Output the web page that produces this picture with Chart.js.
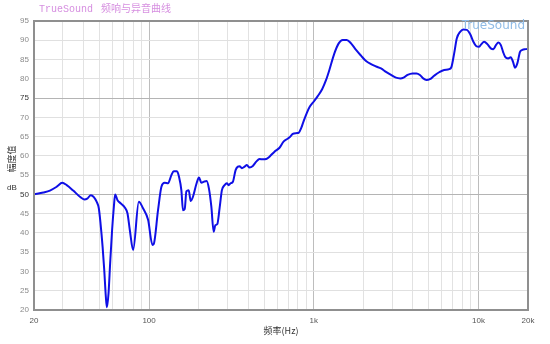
<!DOCTYPE html>
<html>
<head>
<meta charset="utf-8">
<script src="https://cdn.jsdelivr.net/npm/chart.js@4/dist/chart.umd.min.js"></script>
<style>
  html, body { margin: 0; padding: 0; background: #fff; }
  #wrap { width: 550px; height: 344px; }
</style>
</head>
<body>
<div id="wrap"><canvas id="chart" width="550" height="344"></canvas></div>
<script>
// frequency response
const freqHz = [
    20, 22.8, 25, 27.5, 29.7, 31.6, 34.6, 38, 40.4, 42.1, 44.3, 46.2, 48, 49.5,
    50.7, 52.2, 53.4, 54.6, 55.4, 56.7, 58, 59.6, 61.1, 62.2, 64.3, 67.1, 71.2,
    73.9, 76.4, 80, 86.6, 91.9, 98.6, 104.8, 106.7, 113.3, 118.8, 124.4, 130.3,
    136.6, 141.1, 147.7, 151.9, 157.1, 160.6, 164.5, 168.5, 174, 178.9, 184.7,
    193.7, 200.9, 207.7, 215.4, 223.6, 230.9, 238.8, 246.6, 252.5, 259.6, 268.1,
    276.8, 287.4, 296.8, 303.9, 312.5, 322.8, 335.2, 346.1, 354.4, 366, 380,
    392.4, 407.4, 426.6, 447.4, 468.5, 490.6, 514.4, 538.6, 577.6, 619.5, 655.2,
    686.1, 712.3, 745.9, 782.1, 811, 838.5, 865.9, 906.7, 941.4, 1009, 1057,
    1124, 1188, 1244, 1334, 1417, 1498, 1584, 1684, 1806, 1937, 2077, 2227,
    2388, 2560, 2745, 2944, 3157, 3352, 3510, 3711, 3979, 4207, 4411, 4619,
    4836, 5071, 5386, 5776, 6195, 6642, 6861, 7123, 7394, 7743, 8107, 8501,
    8902, 9322, 9678, 10092, 10423, 10822, 11333, 11884, 12324, 12800, 13213,
    13662, 14110, 14570, 15131, 15713, 16224, 16682, 17228, 17887, 18474,
    19370, 20000,
];
const splDb = [
    50, 50.5, 51, 52, 53, 52.4, 51, 49.4, 48.7, 48.9, 49.8, 49.3, 48.1, 46.4,
    42.5, 36.4, 30.4, 23.5, 20.7, 24.3, 32.1, 40.7, 46.8, 50, 48.5, 47.7, 46.6,
    45.1, 40.7, 35.6, 48.1, 46.4, 43.4, 36.9, 37.1, 45.9, 52, 53, 52.9,
    55, 56, 56, 54.6, 51, 45.9, 46.2, 50.8, 51.1, 48.3, 49.4,
    52.7, 54.4, 53, 53.3, 53.5, 51.5, 46.8, 40.3, 42, 42.3, 46.5,
    51.1, 52.4, 52.9, 52.4, 52.9, 53.3, 56.3, 57.2, 57.3, 56.8, 57.2,
    57.6, 57, 57.4, 58.5, 59.2, 59.1, 59.2, 59.8, 61.1, 62.1, 63.7,
    64.3, 64.8, 65.7, 65.9, 66, 67.2, 68.9, 71.1, 72.6, 74.3, 75.5,
    77.3, 79.7, 82.3, 86.6, 89.2, 90.1, 90.1, 89.2, 87.5, 86, 84.6, 83.8,
    83.2, 82.7, 81.8, 81, 80.3, 80.1, 80.3, 81, 81.4, 81.4, 81, 80.1,
    79.7, 79.9, 80.8, 81.7, 82.3, 82.5, 83.1, 86.6, 90.5, 92.2, 92.8, 92.7,
    91.6, 89.6, 88.5, 88.3, 89, 89.6, 89, 87.9, 87.7, 88.8, 89.4,
    88.8, 87, 85.6, 85.3, 85.6, 84.4, 82.9, 84, 87, 87.5,
    87.7, 87.8,
];

// axis ticks and grid
const xGridHz = [
    20, 30, 40, 50, 60, 70, 80, 90,
    100, 200, 300, 400, 500, 600, 700, 800, 900,
    1000, 2000, 3000, 4000, 5000, 6000, 7000, 8000, 9000,
    10000, 20000,
];
const xTickValues = [20, 100, 1000, 10000, 20000];
const xTickLabels = ['20', '100', '1k', '10k', '20k'];
const xMajorHz = [100, 1000, 10000];
const yTickValues = [20, 25, 30, 35, 40, 45, 50, 55, 60, 65, 70, 75, 80, 85, 90, 95];
const yMajorDb = [50, 75];

const chartTitle = 'TrueSound';
const chartSubtitle = '频响与异音曲线';
const watermark = 'TrueSound';
const xTitle = '频率(Hz)';
const yTitle = '幅度值';
const yUnit = 'dB';

const tickFont = { family: 'Liberation Sans', size: 8 };

const labelsPlugin = {
    id: 'labels',
    afterDraw(chart) {
        const { ctx, chartArea: area } = chart;
        ctx.save();

        // frame
        ctx.strokeStyle = '#8f8f8f';
        ctx.lineWidth = 2;
        ctx.strokeRect(area.left, area.top, area.right - area.left, area.bottom - area.top);

        // title
        ctx.fillStyle = '#d68fe0';
        ctx.textBaseline = 'middle';
        ctx.textAlign = 'left';
        ctx.font = '10px "Liberation Mono"';
        ctx.fillText(chartTitle, 39, 9);
        const w = ctx.measureText(chartTitle).width;
        ctx.font = '10px "Noto Sans CJK SC"';
        ctx.fillText(chartSubtitle, 39 + w + 8, 8);

        // watermark
        ctx.fillStyle = '#8fbbe6';
        ctx.textAlign = 'right';
        ctx.font = '12px "DejaVu Sans"';
        ctx.fillText(watermark, 525, 26);

        // axis captions
        ctx.fillStyle = '#333';
        ctx.textAlign = 'center';
        ctx.font = '9px "Noto Sans CJK SC"';
        ctx.fillText(xTitle, (area.left + area.right) / 2, 331);

        ctx.save();
        ctx.translate(12, 159);
        ctx.rotate(-Math.PI / 2);
        ctx.fillText(yTitle, 0, 0);
        ctx.restore();

        ctx.font = '8px "Liberation Sans"';
        ctx.fillText(yUnit, 12, 188);

        ctx.restore();
    },
};

new Chart(document.getElementById('chart'), {
    type: 'line',
    data: {
        datasets: [{
            data: freqHz.map((f, i) => ({ x: f, y: splDb[i] })),
            borderColor: '#0f0fe6',
            borderWidth: 2,
            pointRadius: 0,
            cubicInterpolationMode: 'monotone',
        }],
    },
    options: {
        responsive: false,
        animation: false,
        devicePixelRatio: 1,
        layout: { padding: { top: 21, right: 22, left: 0, bottom: 0 } },
        plugins: {
            legend: { display: false },
            tooltip: { enabled: false },
        },
        scales: {
            x: {
                type: 'logarithmic',
                min: 20,
                max: 20000,
                afterBuildTicks: (scale) => {
                    scale.ticks = xGridHz.map((value) => ({ value }));
                },
                afterFit: (scale) => {
                    scale.height = 34;
                },
                border: { display: false },
                grid: {
                    drawTicks: false,
                    color: (ctx) => (xMajorHz.includes(ctx.tick?.value) ? '#bdbdbd' : '#e2e2e2'),
                },
                ticks: {
                    autoSkip: false,
                    maxRotation: 0,
                    padding: 6,
                    color: '#555',
                    font: tickFont,
                    callback: (value) => {
                        const i = xTickValues.indexOf(value);
                        return i >= 0 ? xTickLabels[i] : '';
                    },
                },
            },
            y: {
                min: 20,
                max: 95,
                afterBuildTicks: (scale) => {
                    scale.ticks = yTickValues.map((value) => ({ value }));
                },
                afterFit: (scale) => {
                    scale.width = 34;
                },
                border: { display: false },
                grid: {
                    drawTicks: false,
                    color: (ctx) => (yMajorDb.includes(ctx.tick?.value) ? '#b4b4b4' : '#e0e0e0'),
                },
                ticks: {
                    padding: 5,
                    font: tickFont,
                    color: (ctx) => (yMajorDb.includes(ctx.tick?.value) ? '#333' : '#8a8a8a'),
                },
            },
        },
    },
    plugins: [labelsPlugin],
});
</script>
</body>
</html>
